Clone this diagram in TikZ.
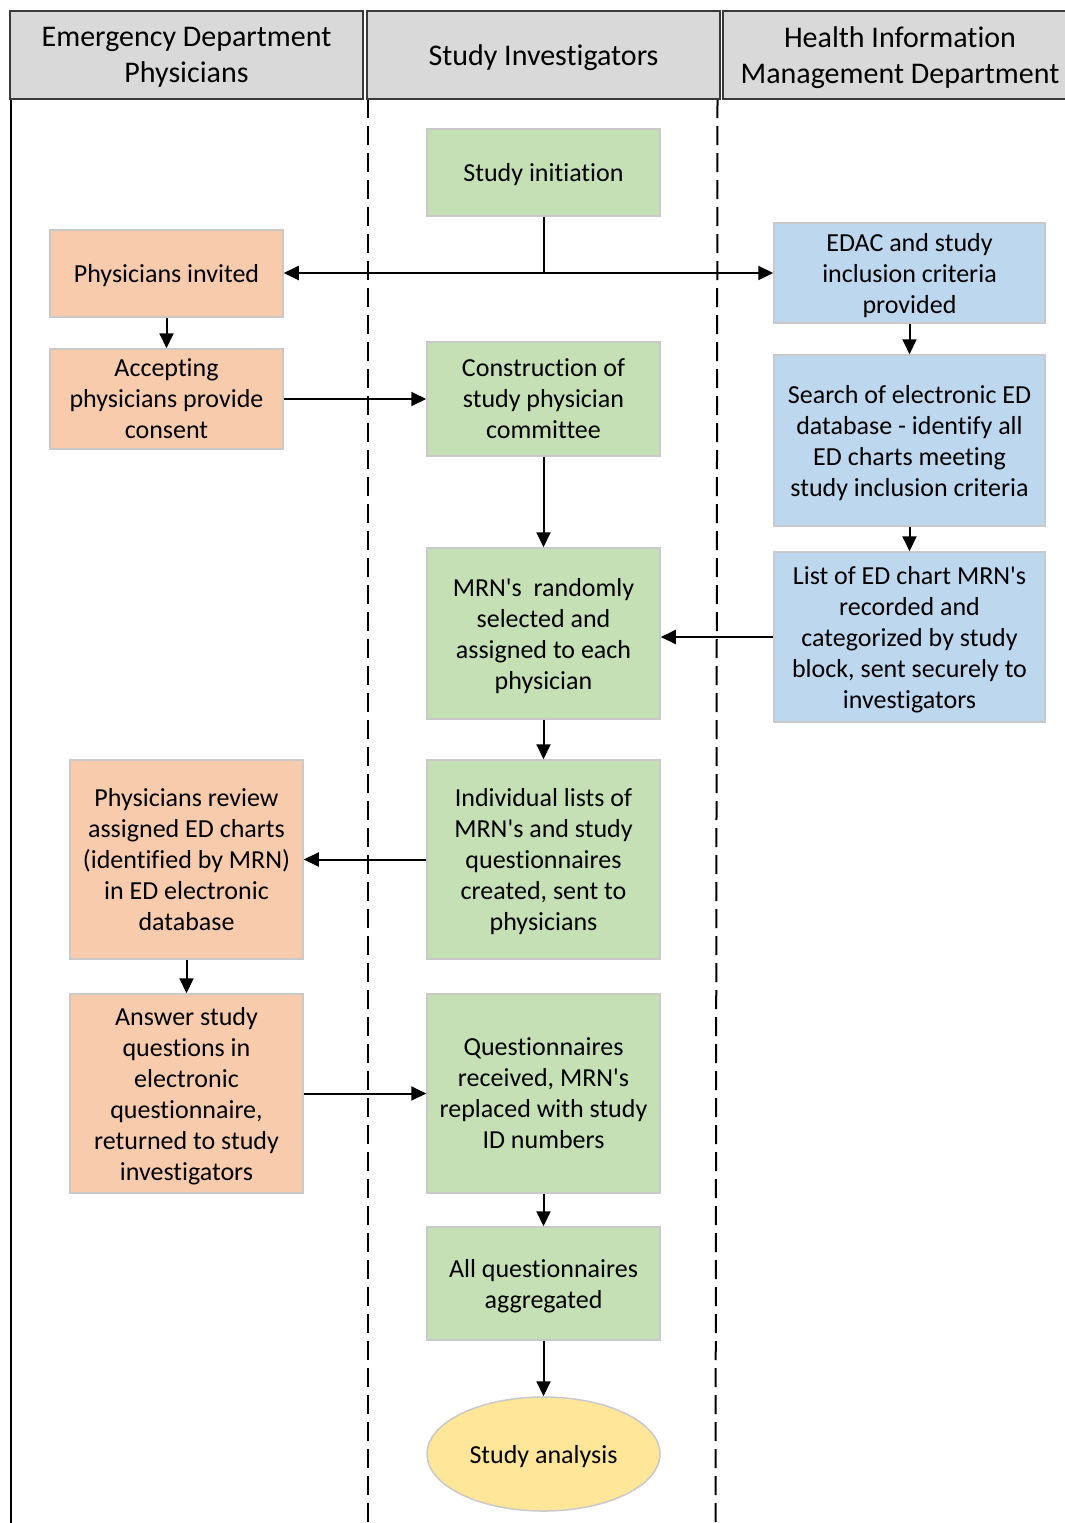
\documentclass[tikz,border=0pt]{standalone}
\usepackage{fontspec}
\setmainfont{Carlito}[Ligatures={NoCommon}]
\usetikzlibrary{arrows.meta,shapes.geometric}
\definecolor{sgreen}{HTML}{C5E0B4}
\definecolor{sorange}{HTML}{F8CBAD}
\definecolor{sblue}{HTML}{BDD7EE}
\definecolor{syellow}{HTML}{FFE699}
\definecolor{hgray}{HTML}{D9D9D9}
\definecolor{boxline}{HTML}{C9C9C9}
\definecolor{hline}{HTML}{3A3A3A}
\newcommand{\ap}{\textquotesingle}
\begin{document}
\begin{tikzpicture}[x=1pt,y=-1pt,
  base/.style={draw=boxline, line width=1.5pt, align=center, inner sep=0pt,
    font=\fontsize{26}{31}\selectfont, text depth=-2pt},
  gbox/.style={base, fill=sgreen},
  obox/.style={base, fill=sorange},
  bbox/.style={base, fill=sblue},
  ybox/.style={base, fill=syellow, ellipse},
  hdr/.style={draw=hline, fill=hgray, line width=2pt, align=center, inner sep=0pt,
    font=\fontsize{30}{36}\selectfont, text depth=-2pt},
  arr/.style={-{Triangle[length=15pt,width=14pt]}, line width=2pt},
  laneline/.style={line width=2pt, black},
  lanedash/.style={line width=2pt, black, dash pattern=on 19pt off 8pt},
]
\useasboundingbox (0,0) rectangle (1065,1523);

% lanes
\coordinate (l0t) at (10.5,99); \coordinate (l0b) at (10.5,1523);
\coordinate (l1t) at (368,99);  \coordinate (l1b) at (368,1523);
\coordinate (l2t) at (717.5,99);  \coordinate (l2b) at (715.5,1523);
\draw[laneline] (l0t) -- (l0b);
\draw[lanedash] (l1t) -- (l1b);
\draw[lanedash] (l2t) -- (l2b);

% headers
\node[hdr, minimum width=353, minimum height=88] (h1) at (186.5,55) {Emergency Department\\Physicians};
\node[hdr, minimum width=353, minimum height=88] (h2) at (543.5,55) {Study Investigators};
\node[hdr, minimum width=354, minimum height=88] (h3) at (900,55) {Health Information\\Management Department};

% boxes
\node[gbox, minimum width=233, minimum height=87] (init) at (543.5,172.5) {Study initiation};
\node[obox, minimum width=233, minimum height=87] (invited) at (166.5,273.5) {Physicians invited};
\node[bbox, minimum width=271, minimum height=100] (edac) at (909.5,273) {EDAC and study\\inclusion criteria\\provided};
\node[obox, minimum width=233, minimum height=100] (accept) at (166.5,399) {Accepting\\physicians provide\\consent};
\node[gbox, minimum width=233, minimum height=114] (constr) at (543.5,399) {Construction of\\study physician\\committee};
\node[bbox, minimum width=271, minimum height=171] (search) at (909.5,440.5) {Search of electronic ED\\database - identify all\\ED charts meeting\\study inclusion criteria};
\node[gbox, minimum width=233, minimum height=171] (mrn) at (543.5,633.5) {MRN\ap s\ \ randomly\\selected and\\assigned to each\\physician};
\node[bbox, minimum width=271, minimum height=170] (list) at (909.5,637) {List of ED chart MRN\ap s\\recorded and\\categorized by study\\block, sent securely to\\investigators};
\node[gbox, minimum width=233, minimum height=199] (indiv) at (543.5,859.5) {Individual lists of\\MRN\ap s and study\\questionnaires\\created, sent to\\physicians};
\node[obox, minimum width=233, minimum height=199] (review) at (186.5,859.5) {Physicians review\\assigned ED charts\\(identified by MRN)\\in ED electronic\\database};
\node[obox, minimum width=233, minimum height=199] (answer) at (186.5,1093.5) {Answer study\\questions in\\electronic\\questionnaire,\\returned to study\\investigators};
\node[gbox, minimum width=233, minimum height=199] (qrec) at (543.5,1093.5) {Questionnaires\\received, MRN\ap s\\replaced with study\\ID numbers};
\node[gbox, minimum width=233, minimum height=113] (allq) at (543.5,1283.5) {All questionnaires\\aggregated};
\node[ybox, minimum width=233, minimum height=114] (analysis) at (543.5,1454) {Study analysis};

% connectors
\coordinate (split) at (init.south |- 0,273);
\draw[line width=2pt] (init.south) -- (split);
\draw[arr] (split) -- (split -| invited.east);
\draw[arr] (split) -- (split -| edac.west);
\draw[arr] (invited) -- (accept);
\draw[arr] (accept) -- (constr);
\draw[arr] (edac) -- (search);
\draw[arr] (constr) -- (mrn);
\draw[arr] (search) -- (list);
\draw[arr] (list.west) -- (list.west -| mrn.east);
\draw[arr] (mrn) -- (indiv);
\draw[arr] (indiv) -- (review);
\draw[arr] (review) -- (answer);
\draw[arr] (answer) -- (qrec);
\draw[arr] (qrec) -- (allq);
\draw[arr] (allq) -- (analysis);
\end{tikzpicture}
\end{document}
